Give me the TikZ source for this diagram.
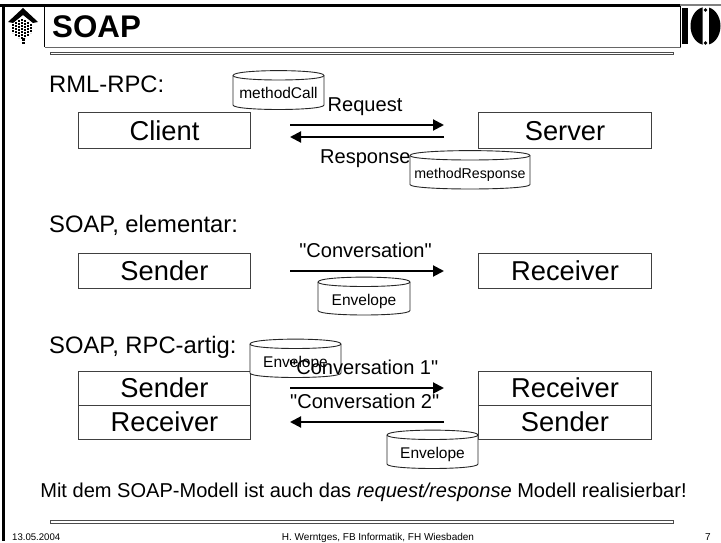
\documentclass[tikz,border=0pt]{standalone}
\usepackage{fontspec}
\setmainfont{Liberation Sans}
\newfontfamily\qf{Liberation Sans}
\usetikzlibrary{arrows.meta}
\newcommand{\fsz}[1]{\fontsize{#1}{#1}\selectfont}
\tikzset{
  x=1pt,y=-1pt,
  boxn/.style={draw=black!75,line width=1pt,fill=white,minimum height=#1,inner sep=0pt},
  big/.style={font=\fsz{27.3},text height=19.5pt,text depth=0pt},
  mid/.style={font=\fsz{20.05}\qf},
  small/.style={font=\fsz{15.5}},
  conn/.style={line width=2pt,-{Triangle[length=11pt,width=11pt]},black},
  lab/.style={inner sep=0pt,anchor=base west},
  dbl/.style={draw=black!70,line width=1pt,fill=white},
}
\newcommand{\cyl}[6]{% name x1 y1 x2 y2 text
  \draw[black!85,line width=0.9pt,fill=white]
    (#2,#3+5) .. controls (#2,#3-1.5) and (#4,#3-1.5) .. (#4,#3+5)
    -- (#4,#5-6) .. controls (#4,#5) and (#2,#5) .. (#2,#5-6) -- cycle;
  \draw[black!85,line width=0.9pt] (#2,#3+5) .. controls (#2,#3+11) and (#4,#3+11) .. (#4,#3+5);
  \node[small,inner sep=0pt,anchor=base] (#1) at ({(#2+#4)/2},{#3+28}) {#6};
}
\begin{document}
\begin{tikzpicture}
\useasboundingbox (0,0) rectangle (721,543);
% frame
\fill[black] (0,4) rectangle (680,7);
\fill[black!50] (680,4.5) rectangle (721,6);
\fill[black] (2,4) rectangle (5,541);
\draw[black,line width=0.8pt] (44.5,6) -- (44.5,47.5);
\draw[black,line width=0.8pt] (680.5,6) -- (680.5,47.5);
\draw[black!60,line width=1.2pt] (44.5,47.5) -- (680.5,47.5);
\draw[dbl] (50,52.5) rectangle (673,55);
\draw[dbl] (50,520.8) rectangle (673,523.2);
% left logo
\fill[black] (23,8) -- (38,22) -- (33,23) -- (23,15) -- (13,23) -- (8,22) -- cycle;
\foreach \x/\a/\b in {13/24/33,16/22/36,19/20/38,22/19/39,25/20/38,28/22/36,31/24/33}{
  \draw[black,line width=1.8pt,dash pattern=on 1.8pt off 1.2pt] (\x,\a) -- (\x,\b);
}
\draw[black,line width=2.6pt,dash pattern=on 2.6pt off 1.2pt] (23.5,38) -- (23.5,45.5);
% right logo
\fill[black] (682,8) rectangle (688,44);
\begin{scope}
  \clip (690,4) rectangle (702.5,48) (709,4) rectangle (722,48);
  \fill[black] (705.5,26) ellipse (15 and 19);
\end{scope}
\fill[black] (705.5,10) circle (1.8);
\fill[black] (705.5,43) circle (1.8);
% title
\node[lab,font=\fsz{31.3}\bfseries] (title) at (52,37.5) {SOAP};
% section labels
\node[lab,font=\fsz{23.8}] (s1) at (49,92.5) {RML-RPC:};
\node[lab,font=\fsz{23.8}] (s2) at (49,232) {SOAP, elementar:};
\node[lab,font=\fsz{23.8}] (s3) at (49,353) {SOAP, RPC-artig:};
% row 1
\node[boxn=35pt,minimum width=172pt,big] (client) at (164.5,130.5) {Client};
\node[boxn=35pt,minimum width=173pt,big] (server) at (565,130.5) {Server};
\coordinate (r1a) at (290,125); \coordinate (r1b) at (444,125);
\coordinate (r2a) at (444,137); \coordinate (r2b) at (290,137);
\draw[conn] (r1a) -- (r1b);
\draw[conn] (r2a) -- (r2b);
\node[lab,mid] (req) at (327.5,111) {Request};
\node[lab,mid] (resp) at (320,163) {Response};
\cyl{mc}{233}{70.5}{324}{111}{methodCall}
\cyl{mr}{410}{150.5}{530}{190.5}{\fsz{14.2}methodResponse}
% row 2
\node[boxn=35pt,minimum width=172pt,big] (sender) at (164.5,270.5) {Sender};
\node[boxn=35pt,minimum width=173pt,big] (recv) at (565,270.5) {Receiver};
\coordinate (c1a) at (290,271); \coordinate (c1b) at (444,271);
\draw[conn] (c1a) -- (c1b);
\node[mid,inner sep=0pt,anchor=base] (conv) at (365.5,257) {"Conversation"};
\cyl{env1}{318}{277}{410}{316.5}{Envelope}
% row 3
\node[boxn=34pt,minimum width=172pt,big] (s3a) at (164.5,388) {Sender};
\node[boxn=34pt,minimum width=172pt,big] (s3b) at (164.5,422) {Receiver};
\node[boxn=34pt,minimum width=173pt,big] (r3a) at (565,388) {Receiver};
\node[boxn=34pt,minimum width=173pt,big] (r3b) at (565,422) {Sender};
\cyl{env2}{250}{339}{341}{379}{Envelope}
\coordinate (c2a) at (290,388); \coordinate (c2b) at (444,388);
\coordinate (c3a) at (444,422); \coordinate (c3b) at (290,422);
\draw[conn] (c2a) -- (c2b);
\draw[conn] (c3a) -- (c3b);
\node[lab,mid] (conv1) at (289,374.5) {"Conversation 1"};
\node[lab,mid] (conv2) at (290,408) {"Conversation 2"};
\cyl{env3}{387}{430}{478}{470}{Envelope}
% bottom
\node[inner sep=0pt,anchor=base,font=\fsz{20.05}] (msg) at (363.5,497) {Mit dem SOAP-Modell ist auch das \textit{request/response} Modell realisierbar!};
\node[lab,font=\fsz{9.6}] (date) at (12,540.5) {13.05.2004};
\node[inner sep=0pt,anchor=base,font=\fsz{10}] (auth) at (378,540.5) {H. Werntges, FB Informatik, FH Wiesbaden};
\node[inner sep=0pt,anchor=base,font=\fsz{10}] (page) at (708,540.5) {7};
\end{tikzpicture}
\end{document}
